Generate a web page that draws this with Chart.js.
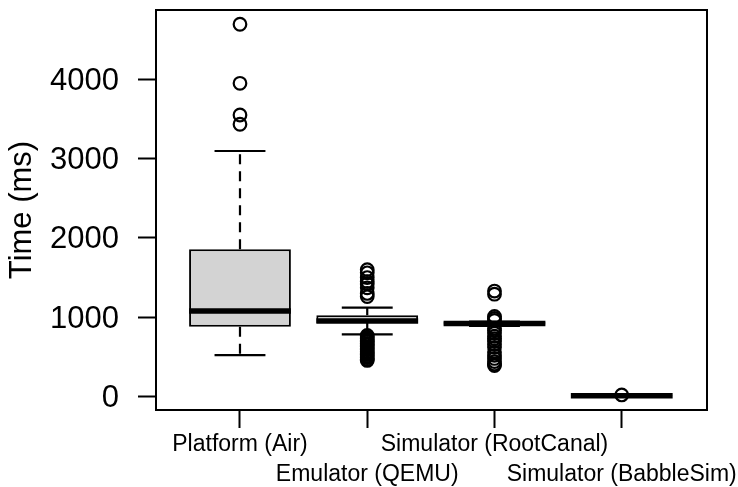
<!DOCTYPE html>
<html>
<head>
<meta charset="utf-8">
<script src="https://cdn.jsdelivr.net/npm/chart.js@4"></script>
<style>
  html, body { margin: 0; padding: 0; background: #fff; }
  canvas { display: block; }
</style>
</head>
<body>
<canvas id="timeChart" width="738" height="487"></canvas>
<script>
// Box plot values (ms)
const categories = ['Platform (Air)', 'Emulator (QEMU)', 'Simulator (RootCanal)', 'Simulator (BabbleSim)'];
const lowerWhisker = [523, 784, 890, 4];
const firstQuartile = [880, 927, 905, 8];
const medians = [1078, 952, 920, 10];
const thirdQuartile = [1856, 1024, 940, 12];
const upperWhisker = [3096, 1120, 945, 16];

const outliersAir = [3433, 3550, 3950, 4694];
const outliersQemu = [1600, 1560, 1500, 1450, 1420, 1370, 1300, 1260,
    770, 750, 730, 710, 690, 670, 650, 630, 610, 590, 570, 550, 530, 510, 490, 470, 455];
const outliersRootCanal = [1330, 1290, 1010, 985, 960,
    860, 835, 800, 760, 730, 700, 660, 620, 560, 520, 480, 440, 410, 390];
const outliersBabbleSim = [20];

const yTicks = [0, 1000, 2000, 3000, 4000];

const outlierGroups = [outliersAir, outliersQemu, outliersRootCanal, outliersBabbleSim];
const outlierPoints = [];
outlierGroups.forEach((group, i) => {
    group.forEach(v => outlierPoints.push({ x: i + 1, y: v }));
});

const boxData = categories.map((c, i) => ({ x: i + 1, y: [firstQuartile[i], thirdQuartile[i]] }));

// whiskers, staples, medians and the frame round the plot
const boxParts = {
    id: 'boxParts',
    beforeDatasetsDraw(chart) {
        const a = chart.chartArea;
        const ctx = chart.ctx;
        ctx.save();
        ctx.strokeStyle = '#000';
        ctx.lineWidth = 2;
        ctx.strokeRect(a.left, a.top, a.right - a.left, a.bottom - a.top);
        ctx.restore();
    },
    afterDatasetDraw(chart, args) {
        if (args.index !== 1) return;
        const xs = chart.scales.x, ys = chart.scales.y;
        const ctx = chart.ctx;
        ctx.save();
        ctx.strokeStyle = '#000';
        categories.forEach((c, i) => {
            const cx = xs.getPixelForValue(i + 1);
            // dashed whiskers
            ctx.lineWidth = 2.2;
            ctx.setLineDash([10, 7]);
            ctx.beginPath();
            ctx.moveTo(cx, ys.getPixelForValue(thirdQuartile[i]));
            ctx.lineTo(cx, ys.getPixelForValue(upperWhisker[i]));
            ctx.moveTo(cx, ys.getPixelForValue(firstQuartile[i]));
            ctx.lineTo(cx, ys.getPixelForValue(lowerWhisker[i]));
            ctx.stroke();
            // staples
            ctx.setLineDash([]);
            const sl = xs.getPixelForValue(i + 1 - 0.2), sr = xs.getPixelForValue(i + 1 + 0.2);
            ctx.beginPath();
            [upperWhisker[i], lowerWhisker[i]].forEach(v => {
                const y = ys.getPixelForValue(v);
                ctx.moveTo(sl, y);
                ctx.lineTo(sr, y);
            });
            ctx.stroke();
            // median
            ctx.lineWidth = 5.5;
            ctx.lineCap = 'butt';
            const my = ys.getPixelForValue(medians[i]);
            ctx.beginPath();
            ctx.moveTo(xs.getPixelForValue(i + 1 - 0.4), my);
            ctx.lineTo(xs.getPixelForValue(i + 1 + 0.4), my);
            ctx.stroke();
        });
        ctx.restore();
    }
};

new Chart(document.getElementById('timeChart'), {
    type: 'bar',
    data: {
        datasets: [{
            type: 'scatter',
            data: outlierPoints,
            pointStyle: 'circle',
            pointRadius: 6.3,
            pointBorderWidth: 2.2,
            pointBorderColor: '#000',
            pointBackgroundColor: 'rgba(0,0,0,0)'
        }, {
            type: 'bar',
            data: boxData,
            backgroundColor: '#D3D3D3',
            borderColor: '#000',
            borderWidth: 2,
            borderSkipped: false,
            barPercentage: 0.8,
            categoryPercentage: 1.0
        }]
    },
    options: {
        responsive: false,
        animation: false,
        events: [],
        layout: { padding: { top: 10, right: 31, left: 0, bottom: 0 } },
        plugins: {
            legend: { display: false },
            tooltip: { enabled: false }
        },
        scales: {
            x: {
                type: 'linear',
                min: 0.34,
                max: 4.67,
                offset: false,
                afterBuildTicks: scale => { scale.ticks = categories.map((c, i) => ({ value: i + 1 })); },
                afterFit: scale => {
                    scale.height = 77;
                    scale.paddingLeft = 0;
                    scale.paddingRight = 0;
                },
                grid: { offset: false, drawOnChartArea: false, drawTicks: true, tickLength: 18, tickColor: '#000', tickWidth: 2 },
                border: { display: false },
                ticks: {
                    autoSkip: false,
                    maxRotation: 0,
                    minRotation: 0,
                    padding: 2,
                    color: '#000',
                    font: { family: 'Liberation Sans', size: 23, lineHeight: 1.3 },
                    callback: (value) => {
                        const i = Math.round(value) - 1;
                        return i % 2 === 0 ? categories[i] : ['', categories[i]];
                    }
                }
            },
            y: {
                min: -170,
                max: 4874,
                afterBuildTicks: scale => { scale.ticks = yTicks.map(v => ({ value: v })); },
                afterFit: scale => {
                    scale.width = 156;
                    scale.paddingTop = 0;
                    scale.paddingBottom = 0;
                },
                grid: { drawOnChartArea: false, drawTicks: true, tickLength: 18, tickColor: '#000', tickWidth: 2 },
                border: { display: false },
                ticks: {
                    padding: 19,
                    labelOffset: 2,
                    color: '#000',
                    font: { family: 'Liberation Sans', size: 31 },
                    callback: (value) => String(value)
                },
                title: {
                    display: true,
                    text: 'Time (ms)',
                    color: '#000',
                    padding: { top: 4, bottom: 0 },
                    font: { family: 'Liberation Sans', size: 31 }
                }
            }
        }
    },
    plugins: [boxParts]
});
</script>
</body>
</html>
